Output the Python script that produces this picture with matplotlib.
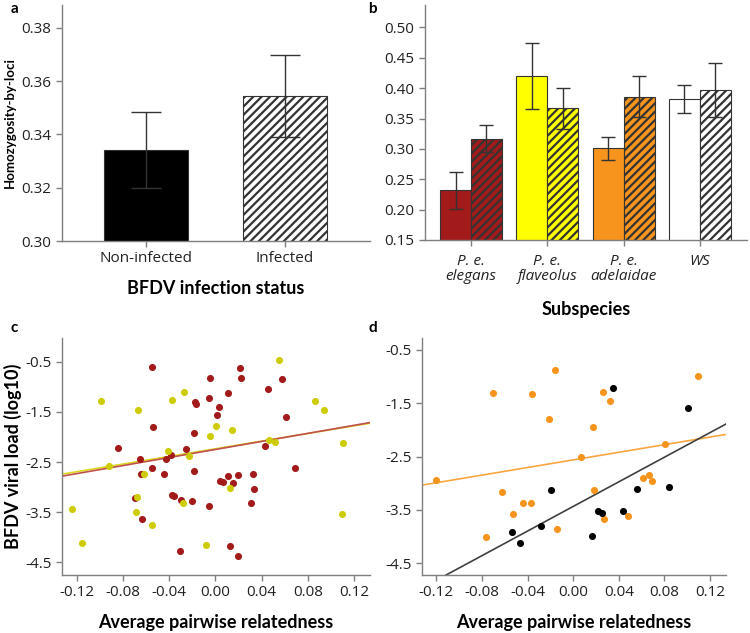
import numpy as np
import matplotlib
matplotlib.use("Agg")
import matplotlib.pyplot as plt

plt.rcParams['font.family'] = ['Lato', 'DejaVu Sans']
plt.rcParams['hatch.linewidth'] = 1.6
plt.rcParams['hatch.color'] = 'black'

# --- panel a: homozygosity by infection status
status = ["Non-infected", "Infected"]
hl_mean = [0.334, 0.3545]
hl_low = [0.320, 0.339]
hl_high = [0.3485, 0.370]

# --- panel b: homozygosity by subspecies (non-infected, infected)
subspecies = ["P. e.\nelegans", "P. e.\nflaveolus", "P. e.\nadelaidae", "WS"]
sub_colors = ["#a31a1a", "#ffff00", "#f7941d", "#ffffff"]
sub_mean_non = [0.232, 0.420, 0.301, 0.382]
sub_low_non = [0.201, 0.366, 0.282, 0.359]
sub_high_non = [0.262, 0.474, 0.320, 0.405]
sub_mean_inf = [0.317, 0.367, 0.386, 0.397]
sub_low_inf = [0.295, 0.332, 0.352, 0.352]
sub_high_inf = [0.339, 0.401, 0.420, 0.442]

# --- panel c: viral load vs relatedness
c_red_x = [-0.0547, -0.0043, 0.0216, 0.0219, 0.0573, 0.0455, 0.0109, -0.0058, -0.0181, -0.0167,
           0.0029, 0.0014, 0.0611, -0.0541, -0.0184, -0.0847, -0.0256, -0.0383, -0.0432, -0.0651,
           0.0432, 0.0691, -0.0547, -0.0648, -0.0444, -0.0184, 0.0112, 0.0193, 0.0323, 0.0040,
           0.0066, 0.0156, 0.0337, -0.0374, -0.0360, -0.0694, -0.0297, -0.0207, 0.0311, -0.0058,
           -0.0636, -0.0311, 0.0127, 0.0193]
c_red_y = [-0.606, -0.819, -0.626, -0.826, -0.839, -1.038, -1.125, -1.231, -1.297, -1.344,
           -1.410, -1.563, -1.603, -1.796, -1.915, -2.221, -2.234, -2.354, -2.447, -2.440,
           -2.174, -2.620, -2.620, -2.733, -2.733, -2.686, -2.786, -2.753, -2.746, -2.885,
           -2.905, -2.912, -3.038, -3.158, -3.171, -3.211, -3.251, -3.284, -3.317, -3.384,
           -3.630, -4.274, -4.181, -4.380]
c_yel_x = [0.0553, -0.0996, -0.0276, -0.0374, -0.0674, 0.0861, 0.0942, 0.0003, -0.0049, 0.0144,
           0.0461, 0.0518, 0.1109, -0.0412, -0.0230, -0.0924, -0.0619, 0.0124, -0.0677, -0.0279,
           -0.1247, -0.0691, -0.0550, 0.1097, -0.1155, -0.0084]
c_yel_y = [-0.467, -1.277, -1.105, -1.271, -1.457, -1.277, -1.463, -1.782, -1.975, -1.869,
           -2.061, -2.108, -2.121, -2.287, -2.380, -2.580, -2.733, -3.012, -3.198, -3.324,
           -3.444, -3.497, -3.756, -3.543, -4.115, -4.148]
c_red_fit = [-2.25, 4.0]     # intercept, slope
c_yel_fit = [-2.236, 3.80]

# --- panel d
d_org_x = [-0.0155, 0.1098, -0.0704, -0.0362, 0.0263, 0.0321, -0.0210, 0.0178, 0.0803, 0.0070,
           -0.1206, 0.0616, 0.0666, 0.0692, -0.0625, 0.0181, -0.0438, -0.0371, -0.0526, 0.0274,
           0.0482, -0.0140, -0.0768]
d_org_y = [-0.875, -1.000, -1.319, -1.331, -1.300, -1.456, -1.800, -1.950, -2.263, -2.513,
           -2.931, -2.900, -2.844, -2.963, -3.169, -3.119, -3.363, -3.363, -3.569, -3.675,
           -3.606, -3.850, -4.000]
d_blk_x = [0.0353, 0.1004, -0.0190, 0.0561, 0.0844, 0.0216, 0.0251, 0.0441, -0.0283, -0.0540,
           -0.0464, 0.0161]
d_blk_y = [-1.213, -1.588, -3.125, -3.100, -3.063, -3.513, -3.556, -3.525, -3.794, -3.913,
           -4.113, -3.994]
d_org_fit = [-2.564, 3.567]
d_blk_fit = [-3.436, 11.53]

W, H = 750, 633
fig = plt.figure(figsize=(W / 100, H / 100), dpi=100)


def frac(l, t, r, b):
    return [l / W, 1 - b / H, (r - l) / W, (b - t) / H]


SPINE = "#7f7f7f"
TICK_FONT = ['Open Sans', 'DejaVu Sans']
TICK_FS = 11
LAB_FS = 13


def style(ax):
    for s in ["top", "right"]:
        ax.spines[s].set_visible(False)
    for s in ["left", "bottom"]:
        ax.spines[s].set_color(SPINE)
        ax.spines[s].set_linewidth(1.0)
    ax.tick_params(colors="#222222", labelsize=TICK_FS, length=4, width=1.0, color=SPINE)
    for lab in ax.get_xticklabels() + ax.get_yticklabels():
        lab.set_family(TICK_FONT)


# panel a
ax = fig.add_axes(frac(62, 5, 370, 241))
xa = np.arange(len(status))
ax.bar(xa[0], hl_mean[0], width=0.6, color="black", edgecolor="#333333", linewidth=0.8)
ax.bar(xa[1], hl_mean[1], width=0.6, color="white", edgecolor="#333333", linewidth=0.8, hatch="////")
ax.errorbar(xa, hl_mean,
            yerr=[np.array(hl_mean) - np.array(hl_low), np.array(hl_high) - np.array(hl_mean)],
            fmt="none", ecolor="#333333", elinewidth=1.0, capsize=10.5, capthick=1.0)
ax.set_xlim(-0.604, 1.612)
ax.set_ylim(0.30, 0.3886)
ax.set_yticks([0.30, 0.32, 0.34, 0.36, 0.38])
ax.set_yticklabels(["0.30", "0.32", "0.34", "0.36", "0.38"])
ax.set_xticks(xa)
ax.set_xticklabels(status)
style(ax)
ax.set_xlabel("BFDV infection status", fontsize=LAB_FS, fontweight="bold", labelpad=10)
ax.set_ylabel("Homozygosity-by-loci", fontsize=9.5, fontweight="bold")
ax.yaxis.set_label_coords((16 - 62) / 308, 0.5)

# panel b
ax = fig.add_axes(frac(425, 5, 747, 240))
xb = np.arange(len(subspecies))
bw = 0.405
for i in range(len(subspecies)):
    ax.bar(xb[i] - bw / 2, sub_mean_non[i], width=bw, color=sub_colors[i], edgecolor="#333333", linewidth=0.8)
    ax.bar(xb[i] + bw / 2, sub_mean_inf[i], width=bw, color=sub_colors[i], edgecolor="#333333", linewidth=0.8,
           hatch="////")
m = np.array(sub_mean_non)
ax.errorbar(xb - bw / 2, m, yerr=[m - np.array(sub_low_non), np.array(sub_high_non) - m],
            fmt="none", ecolor="#333333", elinewidth=1.0, capsize=4.8, capthick=1.0)
m = np.array(sub_mean_inf)
ax.errorbar(xb + bw / 2, m, yerr=[m - np.array(sub_low_inf), np.array(sub_high_inf) - m],
            fmt="none", ecolor="#333333", elinewidth=1.0, capsize=4.8, capthick=1.0)
ax.set_xlim(-0.603, 3.617)
ax.set_ylim(0.15, 0.537)
ax.set_yticks(np.arange(0.15, 0.501, 0.05))
ax.set_yticklabels(["%.2f" % v for v in np.arange(0.15, 0.501, 0.05)])
ax.set_xticks(xb)
ax.set_xticklabels(subspecies, fontstyle="italic", linespacing=1.05)
style(ax)
ax.tick_params(axis="x", pad=6)
ax.set_xlabel("Subspecies", fontsize=LAB_FS, fontweight="bold", labelpad=12)

# panel c
ax = fig.add_axes(frac(62, 338, 370, 575))
ax.scatter(c_red_x, c_red_y, s=26, color="#a31a1a", linewidths=0, zorder=3)
ax.scatter(c_yel_x, c_yel_y, s=26, color="#cccc00", linewidths=0, zorder=3)
xl = np.array([-0.133, 0.134])
ax.plot(xl, c_yel_fit[0] + c_yel_fit[1] * xl, color="#d8d820", lw=1.2, zorder=2)
ax.plot(xl, c_red_fit[0] + c_red_fit[1] * xl, color="#c0504d", lw=1.2, zorder=2)
ax.set_xlim(-0.133, 0.134)
ax.set_ylim(-4.75, -0.03)
ax.set_xticks([-0.12, -0.08, -0.04, 0.0, 0.04, 0.08, 0.12])
ax.set_xticklabels(["-0.12", "-0.08", "-0.04", "0.00", "0.04", "0.08", "0.12"])
ax.set_yticks([-0.5, -1.5, -2.5, -3.5, -4.5])
ax.set_yticklabels(["-0.5", "-1.5", "-2.5", "-3.5", "-4.5"])
style(ax)
ax.set_xlabel("Average pairwise relatedness", fontsize=LAB_FS, fontweight="bold", labelpad=10)
ax.set_ylabel("BFDV viral load (log10)", fontsize=LAB_FS, fontweight="bold")
ax.yaxis.set_label_coords((22 - 62) / 308, 0.5)

# panel d
ax = fig.add_axes(frac(422, 338, 726, 575))
ax.scatter(d_org_x, d_org_y, s=26, color="#f7941d", linewidths=0, zorder=3)
ax.scatter(d_blk_x, d_blk_y, s=26, color="black", linewidths=0, zorder=3)
ax.plot(xl, d_org_fit[0] + d_org_fit[1] * xl, color="#f7a640", lw=1.2, zorder=2)
ax.plot(xl, d_blk_fit[0] + d_blk_fit[1] * xl, color="#404040", lw=1.2, zorder=2)
ax.set_xlim(-0.1325, 0.134)
ax.set_ylim(-4.72, -0.28)
ax.set_xticks([-0.12, -0.08, -0.04, 0.0, 0.04, 0.08, 0.12])
ax.set_xticklabels(["-0.12", "-0.08", "-0.04", "0.00", "0.04", "0.08", "0.12"])
ax.set_yticks([-0.5, -1.5, -2.5, -3.5, -4.5])
ax.set_yticklabels(["-0.5", "-1.5", "-2.5", "-3.5", "-4.5"])
style(ax)
ax.set_xlabel("Average pairwise relatedness", fontsize=LAB_FS, fontweight="bold", labelpad=10)

# panel letters
for txt, x, y in [("a", 14, 9), ("b", 372, 9), ("c", 14, 328), ("d", 373, 328)]:
    fig.text(x / W, 1 - y / H, txt, fontsize=11, fontweight="bold", ha="center", va="center")

fig.savefig("out.png", dpi=100)
